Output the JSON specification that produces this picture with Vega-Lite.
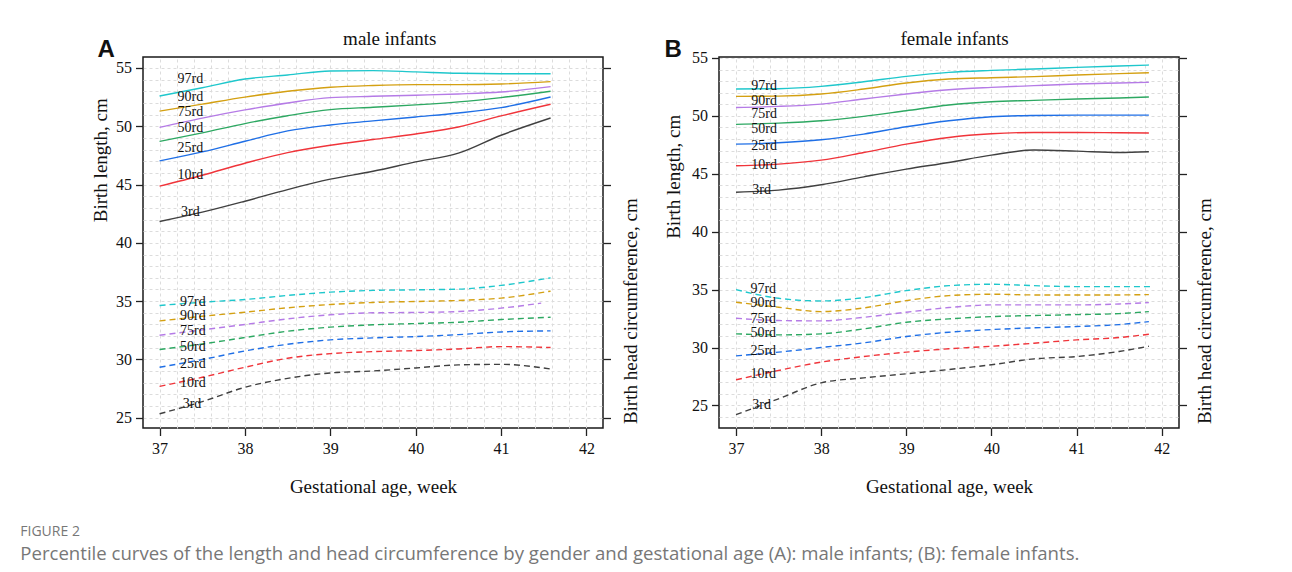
{
  "$schema": "https://vega.github.io/schema/vega-lite/v6.json",
  "padding": {"left": 20, "top": 28, "right": 5, "bottom": 5},
  "bounds": "flush",
  "spacing": 116,
  "datasets": {
    "curves": [
      {"g":"male","m":"len","q":"97rd","x":37,"y":52.6},{"g":"male","m":"len","q":"97rd","x":37.5,"y":53.3},{"g":"male","m":"len","q":"97rd","x":38,"y":54.05},{"g":"male","m":"len","q":"97rd","x":38.5,"y":54.4},{"g":"male","m":"len","q":"97rd","x":39,"y":54.74},{"g":"male","m":"len","q":"97rd","x":39.5,"y":54.77},{"g":"male","m":"len","q":"97rd","x":40,"y":54.66},{"g":"male","m":"len","q":"97rd","x":40.5,"y":54.54},{"g":"male","m":"len","q":"97rd","x":41,"y":54.5},{"g":"male","m":"len","q":"97rd","x":41.58,"y":54.5},
      {"g":"male","m":"len","q":"90rd","x":37,"y":51.3},{"g":"male","m":"len","q":"90rd","x":37.5,"y":51.9},{"g":"male","m":"len","q":"90rd","x":38,"y":52.5},{"g":"male","m":"len","q":"90rd","x":38.5,"y":53.0},{"g":"male","m":"len","q":"90rd","x":39,"y":53.35},{"g":"male","m":"len","q":"90rd","x":39.5,"y":53.5},{"g":"male","m":"len","q":"90rd","x":40,"y":53.57},{"g":"male","m":"len","q":"90rd","x":40.5,"y":53.57},{"g":"male","m":"len","q":"90rd","x":41,"y":53.63},{"g":"male","m":"len","q":"90rd","x":41.58,"y":53.83},
      {"g":"male","m":"len","q":"75rd","x":37,"y":49.9},{"g":"male","m":"len","q":"75rd","x":37.5,"y":50.7},{"g":"male","m":"len","q":"75rd","x":38,"y":51.4},{"g":"male","m":"len","q":"75rd","x":38.5,"y":52.0},{"g":"male","m":"len","q":"75rd","x":39,"y":52.46},{"g":"male","m":"len","q":"75rd","x":39.5,"y":52.57},{"g":"male","m":"len","q":"75rd","x":40,"y":52.66},{"g":"male","m":"len","q":"75rd","x":40.5,"y":52.77},{"g":"male","m":"len","q":"75rd","x":41,"y":52.94},{"g":"male","m":"len","q":"75rd","x":41.58,"y":53.4},
      {"g":"male","m":"len","q":"50rd","x":37,"y":48.7},{"g":"male","m":"len","q":"50rd","x":37.5,"y":49.43},{"g":"male","m":"len","q":"50rd","x":38,"y":50.23},{"g":"male","m":"len","q":"50rd","x":38.5,"y":50.9},{"g":"male","m":"len","q":"50rd","x":39,"y":51.43},{"g":"male","m":"len","q":"50rd","x":39.5,"y":51.63},{"g":"male","m":"len","q":"50rd","x":40,"y":51.83},{"g":"male","m":"len","q":"50rd","x":40.5,"y":52.09},{"g":"male","m":"len","q":"50rd","x":41,"y":52.46},{"g":"male","m":"len","q":"50rd","x":41.58,"y":53.0},
      {"g":"male","m":"len","q":"25rd","x":37,"y":47.03},{"g":"male","m":"len","q":"25rd","x":37.5,"y":47.8},{"g":"male","m":"len","q":"25rd","x":38,"y":48.71},{"g":"male","m":"len","q":"25rd","x":38.5,"y":49.6},{"g":"male","m":"len","q":"25rd","x":39,"y":50.11},{"g":"male","m":"len","q":"25rd","x":39.5,"y":50.46},{"g":"male","m":"len","q":"25rd","x":40,"y":50.8},{"g":"male","m":"len","q":"25rd","x":40.5,"y":51.14},{"g":"male","m":"len","q":"25rd","x":41,"y":51.6},{"g":"male","m":"len","q":"25rd","x":41.58,"y":52.51},
      {"g":"male","m":"len","q":"10rd","x":37,"y":44.86},{"g":"male","m":"len","q":"10rd","x":37.5,"y":45.8},{"g":"male","m":"len","q":"10rd","x":38,"y":46.83},{"g":"male","m":"len","q":"10rd","x":38.5,"y":47.74},{"g":"male","m":"len","q":"10rd","x":39,"y":48.37},{"g":"male","m":"len","q":"10rd","x":39.5,"y":48.86},{"g":"male","m":"len","q":"10rd","x":40,"y":49.34},{"g":"male","m":"len","q":"10rd","x":40.5,"y":49.94},{"g":"male","m":"len","q":"10rd","x":41,"y":50.89},{"g":"male","m":"len","q":"10rd","x":41.58,"y":51.89},
      {"g":"male","m":"len","q":"3rd","x":37,"y":41.83},{"g":"male","m":"len","q":"3rd","x":37.5,"y":42.63},{"g":"male","m":"len","q":"3rd","x":38,"y":43.57},{"g":"male","m":"len","q":"3rd","x":38.5,"y":44.57},{"g":"male","m":"len","q":"3rd","x":39,"y":45.46},{"g":"male","m":"len","q":"3rd","x":39.5,"y":46.14},{"g":"male","m":"len","q":"3rd","x":40,"y":46.94},{"g":"male","m":"len","q":"3rd","x":40.5,"y":47.69},{"g":"male","m":"len","q":"3rd","x":41,"y":49.23},{"g":"male","m":"len","q":"3rd","x":41.58,"y":50.71},
      {"g":"male","m":"head","q":"97rd","x":37,"y":34.63},{"g":"male","m":"head","q":"97rd","x":37.5,"y":34.91},{"g":"male","m":"head","q":"97rd","x":38,"y":35.14},{"g":"male","m":"head","q":"97rd","x":38.5,"y":35.49},{"g":"male","m":"head","q":"97rd","x":39,"y":35.77},{"g":"male","m":"head","q":"97rd","x":39.5,"y":35.92},{"g":"male","m":"head","q":"97rd","x":40,"y":35.97},{"g":"male","m":"head","q":"97rd","x":40.5,"y":36.03},{"g":"male","m":"head","q":"97rd","x":41,"y":36.35},{"g":"male","m":"head","q":"97rd","x":41.58,"y":37.0},
      {"g":"male","m":"head","q":"90rd","x":37,"y":33.3},{"g":"male","m":"head","q":"90rd","x":37.5,"y":33.7},{"g":"male","m":"head","q":"90rd","x":38,"y":34.05},{"g":"male","m":"head","q":"90rd","x":38.5,"y":34.43},{"g":"male","m":"head","q":"90rd","x":39,"y":34.71},{"g":"male","m":"head","q":"90rd","x":39.5,"y":34.89},{"g":"male","m":"head","q":"90rd","x":40,"y":34.97},{"g":"male","m":"head","q":"90rd","x":40.5,"y":35.06},{"g":"male","m":"head","q":"90rd","x":41,"y":35.26},{"g":"male","m":"head","q":"90rd","x":41.58,"y":35.86},
      {"g":"male","m":"head","q":"75rd","x":37,"y":32.08},{"g":"male","m":"head","q":"75rd","x":37.5,"y":32.54},{"g":"male","m":"head","q":"75rd","x":38,"y":33.0},{"g":"male","m":"head","q":"75rd","x":38.5,"y":33.48},{"g":"male","m":"head","q":"75rd","x":39,"y":33.83},{"g":"male","m":"head","q":"75rd","x":39.5,"y":34.0},{"g":"male","m":"head","q":"75rd","x":40,"y":34.03},{"g":"male","m":"head","q":"75rd","x":40.5,"y":34.11},{"g":"male","m":"head","q":"75rd","x":41,"y":34.4},{"g":"male","m":"head","q":"75rd","x":41.47,"y":34.83},
      {"g":"male","m":"head","q":"50rd","x":37,"y":30.85},{"g":"male","m":"head","q":"50rd","x":37.5,"y":31.33},{"g":"male","m":"head","q":"50rd","x":38,"y":31.88},{"g":"male","m":"head","q":"50rd","x":38.5,"y":32.42},{"g":"male","m":"head","q":"50rd","x":39,"y":32.77},{"g":"male","m":"head","q":"50rd","x":39.5,"y":32.97},{"g":"male","m":"head","q":"50rd","x":40,"y":33.08},{"g":"male","m":"head","q":"50rd","x":40.5,"y":33.19},{"g":"male","m":"head","q":"50rd","x":41,"y":33.42},{"g":"male","m":"head","q":"50rd","x":41.58,"y":33.62},
      {"g":"male","m":"head","q":"25rd","x":37,"y":29.33},{"g":"male","m":"head","q":"25rd","x":37.5,"y":29.99},{"g":"male","m":"head","q":"25rd","x":38,"y":30.73},{"g":"male","m":"head","q":"25rd","x":38.5,"y":31.3},{"g":"male","m":"head","q":"25rd","x":39,"y":31.68},{"g":"male","m":"head","q":"25rd","x":39.5,"y":31.85},{"g":"male","m":"head","q":"25rd","x":40,"y":31.96},{"g":"male","m":"head","q":"25rd","x":40.5,"y":32.13},{"g":"male","m":"head","q":"25rd","x":41,"y":32.36},{"g":"male","m":"head","q":"25rd","x":41.58,"y":32.45},
      {"g":"male","m":"head","q":"10rd","x":37,"y":27.69},{"g":"male","m":"head","q":"10rd","x":37.5,"y":28.47},{"g":"male","m":"head","q":"10rd","x":38,"y":29.33},{"g":"male","m":"head","q":"10rd","x":38.5,"y":30.1},{"g":"male","m":"head","q":"10rd","x":39,"y":30.5},{"g":"male","m":"head","q":"10rd","x":39.5,"y":30.67},{"g":"male","m":"head","q":"10rd","x":40,"y":30.76},{"g":"male","m":"head","q":"10rd","x":40.5,"y":30.9},{"g":"male","m":"head","q":"10rd","x":41,"y":31.1},{"g":"male","m":"head","q":"10rd","x":41.58,"y":31.02},
      {"g":"male","m":"head","q":"3rd","x":37,"y":25.34},{"g":"male","m":"head","q":"3rd","x":37.5,"y":26.38},{"g":"male","m":"head","q":"3rd","x":38,"y":27.61},{"g":"male","m":"head","q":"3rd","x":38.5,"y":28.38},{"g":"male","m":"head","q":"3rd","x":39,"y":28.84},{"g":"male","m":"head","q":"3rd","x":39.5,"y":29.01},{"g":"male","m":"head","q":"3rd","x":40,"y":29.27},{"g":"male","m":"head","q":"3rd","x":40.5,"y":29.53},{"g":"male","m":"head","q":"3rd","x":41,"y":29.58},{"g":"male","m":"head","q":"3rd","x":41.58,"y":29.18},
      {"g":"female","m":"len","q":"97rd","x":37,"y":52.32},{"g":"female","m":"len","q":"97rd","x":37.5,"y":52.35},{"g":"female","m":"len","q":"97rd","x":38,"y":52.55},{"g":"female","m":"len","q":"97rd","x":38.5,"y":52.95},{"g":"female","m":"len","q":"97rd","x":39,"y":53.41},{"g":"female","m":"len","q":"97rd","x":39.5,"y":53.76},{"g":"female","m":"len","q":"97rd","x":40,"y":53.93},{"g":"female","m":"len","q":"97rd","x":40.5,"y":54.05},{"g":"female","m":"len","q":"97rd","x":41,"y":54.19},{"g":"female","m":"len","q":"97rd","x":41.5,"y":54.31},{"g":"female","m":"len","q":"97rd","x":41.85,"y":54.39},
      {"g":"female","m":"len","q":"90rd","x":37,"y":51.69},{"g":"female","m":"len","q":"90rd","x":37.5,"y":51.71},{"g":"female","m":"len","q":"90rd","x":38,"y":51.89},{"g":"female","m":"len","q":"90rd","x":38.5,"y":52.32},{"g":"female","m":"len","q":"90rd","x":39,"y":52.84},{"g":"female","m":"len","q":"90rd","x":39.5,"y":53.18},{"g":"female","m":"len","q":"90rd","x":40,"y":53.3},{"g":"female","m":"len","q":"90rd","x":40.5,"y":53.39},{"g":"female","m":"len","q":"90rd","x":41,"y":53.53},{"g":"female","m":"len","q":"90rd","x":41.5,"y":53.65},{"g":"female","m":"len","q":"90rd","x":41.85,"y":53.73},
      {"g":"female","m":"len","q":"75rd","x":37,"y":50.73},{"g":"female","m":"len","q":"75rd","x":37.5,"y":50.82},{"g":"female","m":"len","q":"75rd","x":38,"y":51.02},{"g":"female","m":"len","q":"75rd","x":38.5,"y":51.46},{"g":"female","m":"len","q":"75rd","x":39,"y":51.89},{"g":"female","m":"len","q":"75rd","x":39.5,"y":52.26},{"g":"female","m":"len","q":"75rd","x":40,"y":52.46},{"g":"female","m":"len","q":"75rd","x":40.5,"y":52.61},{"g":"female","m":"len","q":"75rd","x":41,"y":52.75},{"g":"female","m":"len","q":"75rd","x":41.5,"y":52.84},{"g":"female","m":"len","q":"75rd","x":41.85,"y":52.9},
      {"g":"female","m":"len","q":"50rd","x":37,"y":49.27},{"g":"female","m":"len","q":"50rd","x":37.5,"y":49.38},{"g":"female","m":"len","q":"50rd","x":38,"y":49.58},{"g":"female","m":"len","q":"50rd","x":38.5,"y":49.96},{"g":"female","m":"len","q":"50rd","x":39,"y":50.45},{"g":"female","m":"len","q":"50rd","x":39.5,"y":50.94},{"g":"female","m":"len","q":"50rd","x":40,"y":51.22},{"g":"female","m":"len","q":"50rd","x":40.5,"y":51.34},{"g":"female","m":"len","q":"50rd","x":41,"y":51.46},{"g":"female","m":"len","q":"50rd","x":41.5,"y":51.54},{"g":"female","m":"len","q":"50rd","x":41.85,"y":51.63},
      {"g":"female","m":"len","q":"25rd","x":37,"y":47.56},{"g":"female","m":"len","q":"25rd","x":37.5,"y":47.68},{"g":"female","m":"len","q":"25rd","x":38,"y":47.94},{"g":"female","m":"len","q":"25rd","x":38.5,"y":48.43},{"g":"female","m":"len","q":"25rd","x":39,"y":49.06},{"g":"female","m":"len","q":"25rd","x":39.5,"y":49.58},{"g":"female","m":"len","q":"25rd","x":40,"y":49.93},{"g":"female","m":"len","q":"25rd","x":40.5,"y":50.04},{"g":"female","m":"len","q":"25rd","x":41,"y":50.07},{"g":"female","m":"len","q":"25rd","x":41.5,"y":50.07},{"g":"female","m":"len","q":"25rd","x":41.85,"y":50.07},
      {"g":"female","m":"len","q":"10rd","x":37,"y":45.69},{"g":"female","m":"len","q":"10rd","x":37.5,"y":45.84},{"g":"female","m":"len","q":"10rd","x":38,"y":46.18},{"g":"female","m":"len","q":"10rd","x":38.5,"y":46.84},{"g":"female","m":"len","q":"10rd","x":39,"y":47.56},{"g":"female","m":"len","q":"10rd","x":39.5,"y":48.14},{"g":"female","m":"len","q":"10rd","x":40,"y":48.46},{"g":"female","m":"len","q":"10rd","x":40.5,"y":48.57},{"g":"female","m":"len","q":"10rd","x":41,"y":48.57},{"g":"female","m":"len","q":"10rd","x":41.5,"y":48.54},{"g":"female","m":"len","q":"10rd","x":41.85,"y":48.52},
      {"g":"female","m":"len","q":"3rd","x":37,"y":43.41},{"g":"female","m":"len","q":"3rd","x":37.5,"y":43.59},{"g":"female","m":"len","q":"3rd","x":38,"y":44.05},{"g":"female","m":"len","q":"3rd","x":38.5,"y":44.74},{"g":"female","m":"len","q":"3rd","x":39,"y":45.4},{"g":"female","m":"len","q":"3rd","x":39.5,"y":45.98},{"g":"female","m":"len","q":"3rd","x":40,"y":46.61},{"g":"female","m":"len","q":"3rd","x":40.5,"y":47.05},{"g":"female","m":"len","q":"3rd","x":41,"y":46.96},{"g":"female","m":"len","q":"3rd","x":41.5,"y":46.84},{"g":"female","m":"len","q":"3rd","x":41.85,"y":46.9},
      {"g":"female","m":"head","q":"97rd","x":37,"y":35.0},{"g":"female","m":"head","q":"97rd","x":37.5,"y":34.25},{"g":"female","m":"head","q":"97rd","x":38,"y":34.02},{"g":"female","m":"head","q":"97rd","x":38.5,"y":34.31},{"g":"female","m":"head","q":"97rd","x":39,"y":34.91},{"g":"female","m":"head","q":"97rd","x":39.5,"y":35.34},{"g":"female","m":"head","q":"97rd","x":40,"y":35.46},{"g":"female","m":"head","q":"97rd","x":40.5,"y":35.34},{"g":"female","m":"head","q":"97rd","x":41,"y":35.26},{"g":"female","m":"head","q":"97rd","x":41.5,"y":35.26},{"g":"female","m":"head","q":"97rd","x":41.87,"y":35.26},
      {"g":"female","m":"head","q":"90rd","x":37,"y":33.91},{"g":"female","m":"head","q":"90rd","x":37.5,"y":33.48},{"g":"female","m":"head","q":"90rd","x":38,"y":33.1},{"g":"female","m":"head","q":"90rd","x":38.5,"y":33.42},{"g":"female","m":"head","q":"90rd","x":39,"y":34.05},{"g":"female","m":"head","q":"90rd","x":39.5,"y":34.48},{"g":"female","m":"head","q":"90rd","x":40,"y":34.6},{"g":"female","m":"head","q":"90rd","x":40.5,"y":34.54},{"g":"female","m":"head","q":"90rd","x":41,"y":34.54},{"g":"female","m":"head","q":"90rd","x":41.5,"y":34.54},{"g":"female","m":"head","q":"90rd","x":41.85,"y":34.57},
      {"g":"female","m":"head","q":"75rd","x":37,"y":32.53},{"g":"female","m":"head","q":"75rd","x":37.5,"y":32.33},{"g":"female","m":"head","q":"75rd","x":38,"y":32.3},{"g":"female","m":"head","q":"75rd","x":38.5,"y":32.61},{"g":"female","m":"head","q":"75rd","x":39,"y":33.05},{"g":"female","m":"head","q":"75rd","x":39.5,"y":33.45},{"g":"female","m":"head","q":"75rd","x":40,"y":33.68},{"g":"female","m":"head","q":"75rd","x":40.5,"y":33.68},{"g":"female","m":"head","q":"75rd","x":41,"y":33.68},{"g":"female","m":"head","q":"75rd","x":41.5,"y":33.76},{"g":"female","m":"head","q":"75rd","x":41.85,"y":33.88},
      {"g":"female","m":"head","q":"50rd","x":37,"y":31.18},{"g":"female","m":"head","q":"50rd","x":37.5,"y":31.09},{"g":"female","m":"head","q":"50rd","x":38,"y":31.18},{"g":"female","m":"head","q":"50rd","x":38.5,"y":31.61},{"g":"female","m":"head","q":"50rd","x":39,"y":32.18},{"g":"female","m":"head","q":"50rd","x":39.5,"y":32.47},{"g":"female","m":"head","q":"50rd","x":40,"y":32.67},{"g":"female","m":"head","q":"50rd","x":40.5,"y":32.76},{"g":"female","m":"head","q":"50rd","x":41,"y":32.84},{"g":"female","m":"head","q":"50rd","x":41.5,"y":32.93},{"g":"female","m":"head","q":"50rd","x":41.85,"y":33.1},
      {"g":"female","m":"head","q":"25rd","x":37,"y":29.28},{"g":"female","m":"head","q":"25rd","x":37.5,"y":29.6},{"g":"female","m":"head","q":"25rd","x":38,"y":30.0},{"g":"female","m":"head","q":"25rd","x":38.5,"y":30.4},{"g":"female","m":"head","q":"25rd","x":39,"y":30.95},{"g":"female","m":"head","q":"25rd","x":39.5,"y":31.32},{"g":"female","m":"head","q":"25rd","x":40,"y":31.55},{"g":"female","m":"head","q":"25rd","x":40.5,"y":31.7},{"g":"female","m":"head","q":"25rd","x":41,"y":31.81},{"g":"female","m":"head","q":"25rd","x":41.5,"y":31.98},{"g":"female","m":"head","q":"25rd","x":41.85,"y":32.24},
      {"g":"female","m":"head","q":"10rd","x":37,"y":27.21},{"g":"female","m":"head","q":"10rd","x":37.5,"y":28.02},{"g":"female","m":"head","q":"10rd","x":38,"y":28.74},{"g":"female","m":"head","q":"10rd","x":38.5,"y":29.22},{"g":"female","m":"head","q":"10rd","x":39,"y":29.6},{"g":"female","m":"head","q":"10rd","x":39.5,"y":29.89},{"g":"female","m":"head","q":"10rd","x":40,"y":30.11},{"g":"female","m":"head","q":"10rd","x":40.5,"y":30.37},{"g":"female","m":"head","q":"10rd","x":41,"y":30.66},{"g":"female","m":"head","q":"10rd","x":41.5,"y":30.86},{"g":"female","m":"head","q":"10rd","x":41.85,"y":31.15},
      {"g":"female","m":"head","q":"3rd","x":37,"y":24.2},{"g":"female","m":"head","q":"3rd","x":37.5,"y":25.57},{"g":"female","m":"head","q":"3rd","x":38,"y":26.95},{"g":"female","m":"head","q":"3rd","x":38.5,"y":27.38},{"g":"female","m":"head","q":"3rd","x":39,"y":27.73},{"g":"female","m":"head","q":"3rd","x":39.5,"y":28.1},{"g":"female","m":"head","q":"3rd","x":40,"y":28.51},{"g":"female","m":"head","q":"3rd","x":40.5,"y":29.02},{"g":"female","m":"head","q":"3rd","x":41,"y":29.22},{"g":"female","m":"head","q":"3rd","x":41.5,"y":29.66},{"g":"female","m":"head","q":"3rd","x":41.85,"y":30.11}
    ],
    "labels": [
      {"g":"male","q":"97rd","x":37.36,"y":54.09},{"g":"male","q":"90rd","x":37.36,"y":52.54},{"g":"male","q":"75rd","x":37.36,"y":51.23},{"g":"male","q":"50rd","x":37.36,"y":49.86},{"g":"male","q":"25rd","x":37.36,"y":48.14},{"g":"male","q":"10rd","x":37.36,"y":45.8},{"g":"male","q":"3rd","x":37.36,"y":42.66},
      {"g":"male","q":"97rd","x":37.39,"y":34.91},{"g":"male","q":"90rd","x":37.39,"y":33.71},{"g":"male","q":"75rd","x":37.39,"y":32.48},{"g":"male","q":"50rd","x":37.39,"y":31.1},{"g":"male","q":"25rd","x":37.39,"y":29.61},{"g":"male","q":"10rd","x":37.39,"y":27.98},{"g":"male","q":"3rd","x":37.38,"y":26.15},
      {"g":"female","q":"97rd","x":37.33,"y":52.55},{"g":"female","q":"90rd","x":37.33,"y":51.25},{"g":"female","q":"75rd","x":37.33,"y":50.16},{"g":"female","q":"50rd","x":37.33,"y":48.86},{"g":"female","q":"25rd","x":37.33,"y":47.42},{"g":"female","q":"10rd","x":37.33,"y":45.8},{"g":"female","q":"3rd","x":37.3,"y":43.6},
      {"g":"female","q":"97rd","x":37.32,"y":35.06},{"g":"female","q":"90rd","x":37.32,"y":33.82},{"g":"female","q":"75rd","x":37.32,"y":32.47},{"g":"female","q":"50rd","x":37.32,"y":31.24},{"g":"female","q":"25rd","x":37.32,"y":29.68},{"g":"female","q":"10rd","x":37.32,"y":27.67},{"g":"female","q":"3rd","x":37.3,"y":25.0}
    ]
  },
  "title": {
    "text": "FIGURE 2",
    "subtitle": "Percentile curves of the length and head circumference by gender and gestational age (A): male infants; (B): female infants.",
    "orient": "bottom", "anchor": "start", "frame": "group", "dx": -122.7, "offset": 28,
    "font": "Open Sans", "fontSize": 14, "fontWeight": "normal", "color": "#777777",
    "subtitleFont": "Open Sans", "subtitleFontSize": 18.6, "subtitleColor": "#777777", "subtitlePadding": 6
  },
  "hconcat": [
    {
      "width": 460, "height": 371,
      "resolve": {"scale": {"x": "independent", "y": "independent"}},
      "layer": [
        {
          "data": {"name": "curves"},
          "transform": [{"filter": "datum.g == 'male' && datum.m == 'len'"}],
          "mark": {"type": "line", "interpolate": "monotone", "strokeWidth": 1.4},
          "encoding": {
            "x": {"field": "x", "type": "quantitative", "scale": {"domain": [36.806, 42.194], "nice": false, "zero": false},
                  "axis": {"orient": "bottom", "values": [37, 38, 39, 40, 41, 42], "title": "Gestational age, week", "labelFont": "Liberation Serif", "labelFontSize": 16, "labelColor": "#111111", "labelPadding": 5, "titleY": 64.7, "titleBaseline": "alphabetic"}},
            "y": {"field": "y", "type": "quantitative", "scale": {"domain": [24.12, 55.94], "nice": false, "zero": false},
                  "axis": {"orient": "left", "values": [25, 30, 35, 40, 45, 50, 55], "title": "Birth length, cm", "labelFont": "Liberation Serif", "labelFontSize": 16, "labelColor": "#111111", "labelPadding": 4, "titleX": -42.7, "titleY": 102.7, "titleAngle": 270, "titleAlign": "center", "titleBaseline": "middle"}},
            "color": {"field": "q", "type": "nominal", "scale": {"domain": ["3rd", "10rd", "25rd", "50rd", "75rd", "90rd", "97rd"], "range": ["#404040", "#F0343A", "#1F6FE6", "#2DA862", "#B57BE6", "#D4A012", "#1FC7CC"]}, "legend": null}
          }
        },
        {
          "data": {"name": "curves"},
          "transform": [{"filter": "datum.g == 'male' && datum.m == 'head'"}],
          "mark": {"type": "line", "interpolate": "monotone", "strokeWidth": 1.4, "strokeDash": [6, 4]},
          "encoding": {
            "x": {"field": "x", "type": "quantitative", "scale": {"domain": [36.806, 42.194], "nice": false, "zero": false},
                  "axis": {"orient": "top", "values": [37, 37.2, 37.4, 37.6, 37.8, 38, 38.2, 38.4, 38.6, 38.8, 39, 39.2, 39.4, 39.6, 39.8, 40, 40.2, 40.4, 40.6, 40.8, 41, 41.2, 41.4, 41.6, 41.8, 42], "grid": true, "labels": false, "ticks": false, "domain": false,
                           "title": "male infants", "titleFontSize": 19, "titleX": 246.3, "titleY": -12.3, "titleAlign": "center", "titleBaseline": "alphabetic", "titleAngle": 0}},
            "y": {"field": "y", "type": "quantitative", "scale": {"domain": [24.12, 55.94], "nice": false, "zero": false},
                  "axis": {"orient": "right", "values": [25, 30, 35, 40, 45, 50, 55], "labels": false, "title": "Birth head circumference, cm", "titleX": 27.2, "titleY": 253.7, "titleAngle": 270, "titleAlign": "center", "titleBaseline": "middle"}},
            "color": {"field": "q", "type": "nominal", "legend": null}
          }
        },
        {
          "data": {"name": "labels"},
          "transform": [{"filter": "datum.g == 'male'"}],
          "mark": {"type": "text", "font": "Liberation Serif", "fontSize": 14, "color": "#111111", "align": "center", "baseline": "middle"},
          "encoding": {
            "x": {"field": "x", "type": "quantitative", "scale": {"domain": [36.806, 42.194], "nice": false, "zero": false},
                  "axis": {"orient": "top", "labels": false, "ticks": false, "domain": false, "grid": false, "title": "A", "titleFont": "Liberation Sans", "titleFontWeight": "bold", "titleFontSize": 24, "titleX": -46, "titleY": -1, "titleAlign": "left", "titleBaseline": "alphabetic", "titleAngle": 0}},
            "y": {"field": "y", "type": "quantitative", "scale": {"domain": [24.12, 55.94], "nice": false, "zero": false},
                  "axis": {"orient": "left", "values": [25, 26, 27, 28, 29, 30, 31, 32, 33, 34, 35, 36, 37, 38, 39, 40, 41, 42, 43, 44, 45, 46, 47, 48, 49, 50, 51, 52, 53, 54, 55], "grid": true, "labels": false, "ticks": false, "domain": false, "title": null}},
            "text": {"field": "q"}
          }
        }
      ]
    },
    {
      "width": 460, "height": 371,
      "resolve": {"scale": {"x": "independent", "y": "independent"}},
      "layer": [
        {
          "data": {"name": "curves"},
          "transform": [{"filter": "datum.g == 'female' && datum.m == 'len'"}],
          "mark": {"type": "line", "interpolate": "monotone", "strokeWidth": 1.4},
          "encoding": {
            "x": {"field": "x", "type": "quantitative", "scale": {"domain": [36.8, 42.204], "nice": false, "zero": false},
                  "axis": {"orient": "bottom", "values": [37, 38, 39, 40, 41, 42], "title": "Gestational age, week", "labelFont": "Liberation Serif", "labelFontSize": 16, "labelColor": "#111111", "labelPadding": 5, "titleY": 64.7, "titleBaseline": "alphabetic"}},
            "y": {"field": "y", "type": "quantitative", "scale": {"domain": [23.05, 55.086], "nice": false, "zero": false},
                  "axis": {"orient": "left", "values": [25, 30, 35, 40, 45, 50, 55], "title": "Birth length, cm", "labelFont": "Liberation Serif", "labelFontSize": 16, "labelColor": "#111111", "labelPadding": 4, "titleX": -46, "titleY": 119.3, "titleAngle": 270, "titleAlign": "center", "titleBaseline": "middle"}},
            "color": {"field": "q", "type": "nominal", "scale": {"domain": ["3rd", "10rd", "25rd", "50rd", "75rd", "90rd", "97rd"], "range": ["#404040", "#F0343A", "#1F6FE6", "#2DA862", "#B57BE6", "#D4A012", "#1FC7CC"]}, "legend": null}
          }
        },
        {
          "data": {"name": "curves"},
          "transform": [{"filter": "datum.g == 'female' && datum.m == 'head'"}],
          "mark": {"type": "line", "interpolate": "monotone", "strokeWidth": 1.4, "strokeDash": [6, 4]},
          "encoding": {
            "x": {"field": "x", "type": "quantitative", "scale": {"domain": [36.8, 42.204], "nice": false, "zero": false},
                  "axis": {"orient": "top", "values": [37, 37.2, 37.4, 37.6, 37.8, 38, 38.2, 38.4, 38.6, 38.8, 39, 39.2, 39.4, 39.6, 39.8, 40, 40.2, 40.4, 40.6, 40.8, 41, 41.2, 41.4, 41.6, 41.8, 42], "grid": true, "labels": false, "ticks": false, "domain": false,
                           "title": "female infants", "titleFontSize": 19, "titleX": 235, "titleY": -12.3, "titleAlign": "center", "titleBaseline": "alphabetic", "titleAngle": 0}},
            "y": {"field": "y", "type": "quantitative", "scale": {"domain": [23.05, 55.086], "nice": false, "zero": false},
                  "axis": {"orient": "right", "values": [25, 30, 35, 40, 45, 50, 55], "labels": false, "title": "Birth head circumference, cm", "titleX": 25.2, "titleY": 253.7, "titleAngle": 270, "titleAlign": "center", "titleBaseline": "middle"}},
            "color": {"field": "q", "type": "nominal", "legend": null}
          }
        },
        {
          "data": {"name": "labels"},
          "transform": [{"filter": "datum.g == 'female'"}],
          "mark": {"type": "text", "font": "Liberation Serif", "fontSize": 14, "color": "#111111", "align": "center", "baseline": "middle"},
          "encoding": {
            "x": {"field": "x", "type": "quantitative", "scale": {"domain": [36.8, 42.204], "nice": false, "zero": false},
                  "axis": {"orient": "top", "labels": false, "ticks": false, "domain": false, "grid": false, "title": "B", "titleFont": "Liberation Sans", "titleFontWeight": "bold", "titleFontSize": 24, "titleX": -55, "titleY": -1, "titleAlign": "left", "titleBaseline": "alphabetic", "titleAngle": 0}},
            "y": {"field": "y", "type": "quantitative", "scale": {"domain": [23.05, 55.086], "nice": false, "zero": false},
                  "axis": {"orient": "left", "values": [24, 25, 26, 27, 28, 29, 30, 31, 32, 33, 34, 35, 36, 37, 38, 39, 40, 41, 42, 43, 44, 45, 46, 47, 48, 49, 50, 51, 52, 53, 54, 55], "grid": true, "labels": false, "ticks": false, "domain": false, "title": null}},
            "text": {"field": "q"}
          }
        }
      ]
    }
  ],
  "config": {
    "view": {"stroke": "#1a1a1a", "strokeWidth": 1.5},
    "axis": {"labelFont": "Liberation Serif", "labelFontSize": 16, "labelColor": "#111111", "titleFont": "Liberation Serif", "titleFontSize": 19, "titleFontWeight": "normal", "titleColor": "#111111", "tickColor": "#222222", "tickWidth": 1.3, "tickSize": 7.5, "domain": false, "grid": false, "gridColor": "#dcdcdc", "gridDash": [3, 3], "gridWidth": 1}
  }
}
